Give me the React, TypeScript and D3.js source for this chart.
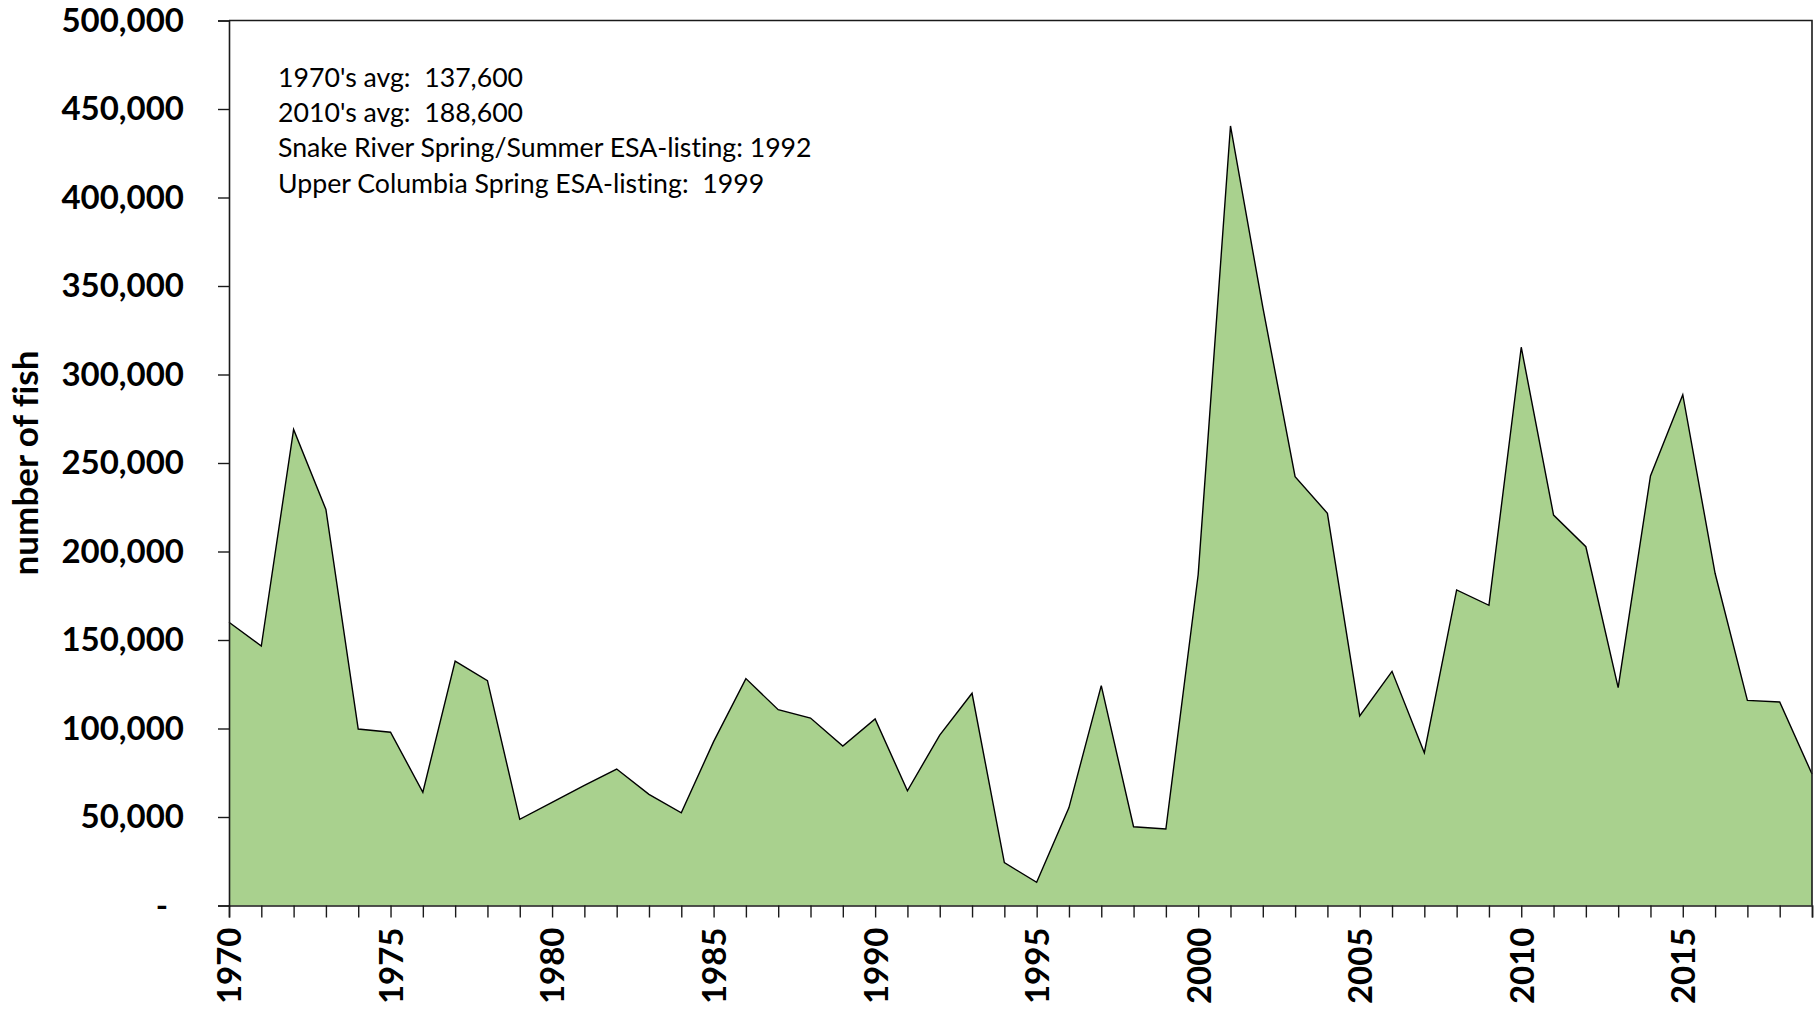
import { useEffect, useRef } from 'react';
import * as d3 from 'd3';

// Yearly counts
const years = [
  1970, 1971, 1972, 1973, 1974, 1975, 1976, 1977, 1978, 1979,
  1980, 1981, 1982, 1983, 1984, 1985, 1986, 1987, 1988, 1989,
  1990, 1991, 1992, 1993, 1994, 1995, 1996, 1997, 1998, 1999,
  2000, 2001, 2002, 2003, 2004, 2005, 2006, 2007, 2008, 2009,
  2010, 2011, 2012, 2013, 2014, 2015, 2016, 2017, 2018, 2019
];

const fishCounts = [
  160000, 146600, 269000, 223800, 99700, 97900, 64000, 138100, 127000, 48700,
  58300, 67900, 77100, 62800, 52400, 92600, 128200, 110600, 105900, 90100,
  105400, 64800, 96300, 119900, 24200, 13100, 55300, 124200, 44500, 43200,
  187000, 440400, 338000, 242300, 221600, 107100, 132300, 86300, 178300, 169600,
  315400, 220600, 202700, 123100, 242700, 288600, 187700, 115900, 115000, 74300
];

const yTicks = [0, 50000, 100000, 150000, 200000, 250000, 300000, 350000, 400000, 450000, 500000];
const xLabelYears = [1970, 1975, 1980, 1985, 1990, 1995, 2000, 2005, 2010, 2015];

const notes = [
  "1970's avg:  137,600",
  "2010's avg:  188,600",
  'Snake River Spring/Summer ESA-listing: 1992',
  'Upper Columbia Spring ESA-listing:  1999'
];

const FONT = 'Lato, "Open Sans", sans-serif';
const GREEN = '#a9d18e';

export default function App() {
  const svgRef = useRef<SVGSVGElement>(null);

  useEffect(() => {
    if (!svgRef.current) return;
    const svg = d3.select(svgRef.current);
    svg.selectAll('*').remove();

    const left = 229, right = 1812, top = 20.5, bottom = 905.5;

    const x = d3.scaleLinear().domain([1970, 2019]).range([left, right]);
    const y = d3.scaleLinear().domain([0, 500000]).range([bottom, top]);

    const data = years.map((yr, i) => ({ year: yr, value: fishCounts[i] }));

    // area fill
    const area = d3.area<{ year: number; value: number }>()
      .x(d => x(d.year))
      .y0(y(0))
      .y1(d => y(d.value));

    svg.append('path')
      .datum(data)
      .attr('d', area)
      .attr('fill', GREEN);

    const line = d3.line<{ year: number; value: number }>()
      .x(d => x(d.year))
      .y(d => y(d.value));

    svg.append('path')
      .datum(data)
      .attr('d', line)
      .attr('fill', 'none')
      .attr('stroke', '#000')
      .attr('stroke-width', 1.4)
      .attr('stroke-linejoin', 'miter');

    // plot frame (top + right)
    svg.append('path')
      .attr('d', `M${left},${top}H${right}V${bottom}`)
      .attr('fill', 'none')
      .attr('stroke', '#1a1a1a')
      .attr('stroke-width', 1.6);

    // y axis
    const yAxis = svg.append('g')
      .attr('transform', `translate(${left},0)`)
      .call(
        d3.axisLeft(y)
          .tickValues(yTicks)
          .tickSize(11)
          .tickPadding(34)
          .tickFormat(d => (+d === 0 ? '-' : d3.format(',')(+d)))
      );
    yAxis.select('.domain').attr('stroke', '#1a1a1a').attr('stroke-width', 1.6);
    yAxis.selectAll('.tick line').attr('stroke', '#1a1a1a').attr('stroke-width', 1.4);
    yAxis.selectAll('.tick text')
      .attr('font-family', FONT)
      .attr('font-weight', 700)
      .attr('font-size', 33)
      .attr('fill', '#000')
      .attr('dx', d => (+d === 0 ? -16 : 0));

    // x axis
    const xAxis = svg.append('g')
      .attr('transform', `translate(0,${bottom})`)
      .call(
        d3.axisBottom(x)
          .tickValues(years)
          .tickSize(12)
          .tickFormat(d => (xLabelYears.includes(+d) ? String(d) : ''))
      );
    xAxis.select('.domain').attr('stroke', '#1a1a1a').attr('stroke-width', 1.6);
    xAxis.selectAll('.tick line').attr('stroke', '#1a1a1a').attr('stroke-width', 1.4);
    xAxis.selectAll('.tick text')
      .attr('font-family', FONT)
      .attr('font-weight', 700)
      .attr('font-size', 33)
      .attr('fill', '#000')
      .attr('text-anchor', 'end')
      .attr('transform', 'translate(0,22) rotate(-90)')
      .attr('x', 0)
      .attr('y', 0)
      .attr('dy', '0.36em');

    // y axis title
    svg.append('text')
      .attr('transform', `translate(38,${(top + bottom) / 2}) rotate(-90)`)
      .attr('text-anchor', 'middle')
      .attr('font-family', FONT)
      .attr('font-weight', 700)
      .attr('font-size', 35)
      .attr('fill', '#000')
      .style('font-variant-ligatures', 'none')
      .text('number of fish');

    // annotation block
    svg.append('g')
      .selectAll('text')
      .data(notes)
      .enter()
      .append('text')
      .attr('x', 278)
      .attr('y', (d, i) => 87 + i * 35.2)
      .attr('font-family', FONT)
      .attr('font-size', 26.7)
      .attr('fill', '#000')
      .attr('xml:space', 'preserve')
      .style('white-space', 'pre')
      .style('font-variant-ligatures', 'none')
      .text(d => d);
  }, []);

  return (
    <svg
      ref={svgRef}
      width={1816}
      height={1010}
      style={{ position: 'absolute', left: 0, top: 0, background: '#fff' }}
    />
  );
}
